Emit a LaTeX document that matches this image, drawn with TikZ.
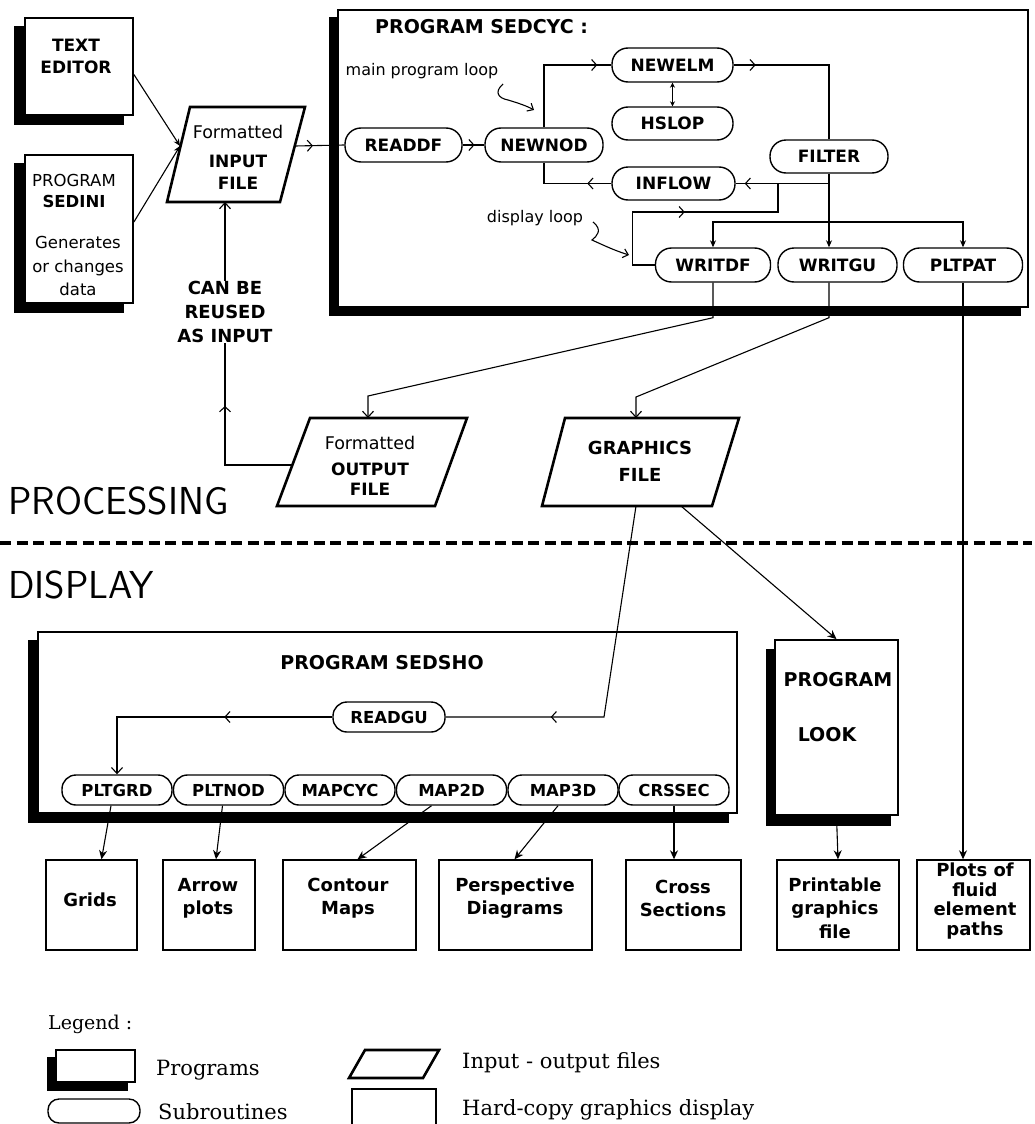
\documentclass[tikz,border=0pt]{standalone}
\usepackage{fontspec}
\setmainfont{DejaVu Sans}
\newfontfamily\legfont{DejaVu Serif}
\usetikzlibrary{arrows.meta,decorations.markings,backgrounds,calc}
\newcommand\fsz[1]{\fontsize{#1}{#1}\selectfont}
\tikzset{
  conn/.style={line width=1.1pt},
  midarr/.style={postaction={decorate},decoration={markings,mark=at position #1 with {\arrow{Straight Barb[length=5pt,width=11pt]}}}},
  openend/.style={-{Straight Barb[length=6pt,width=11pt]}},
  fillend/.style={-{Stealth[length=9pt,width=8pt]}},
  smallend/.style={-{Stealth[length=7pt,width=6pt]}},
  progbox/.style={draw, line width=1.8pt, fill=white, inner sep=0pt},
  sub/.style={draw, fill=white, line width=1.4pt, rounded corners=16pt, minimum width=118pt, minimum height=34pt, inner sep=0pt, font=\fsz{17}\bfseries},
  subsm/.style={sub, rounded corners=14pt, minimum width=110pt, minimum height=30pt, font=\fsz{16.5}\bfseries},
  hard/.style={draw, line width=1.4pt, inner sep=0pt, minimum height=90pt},
  filepath/.style={draw, line width=2.6pt, line join=miter},
  blbl/.style={font=\fsz{17}\bfseries, align=center, inner sep=0pt},
  rlbl/.style={font=\fsz{16}, align=center, inner sep=0pt},
  hlbl/.style={font=\fsz{18}\bfseries, align=center, inner sep=0pt},
  leg/.style={font=\legfont\fsz{21}, anchor=west, inner sep=0pt},
  big/.style={font=\sffamily\fsz{39}, anchor=west, inner sep=0pt},
}
\begin{document}
\begin{tikzpicture}[x=1pt,y=-1pt]
\useasboundingbox (0,0) rectangle (1034,1124);

% ---------- TEXT EDITOR, SEDINI ----------
\node[progbox, minimum width=108pt, minimum height=97pt] (ted) at (79,66.5) {};
\node[blbl] (tedtxt) at (76,56) {TEXT\\[5pt]EDITOR};
\node[progbox, minimum width=108pt, minimum height=148pt] (sedini) at (79,229) {};
\node[align=center, inner sep=0pt, font=\fsz{16.5}] (sedini1) at (74,191) {PROGRAM\\[4.5pt]{\bfseries SEDINI}};
\node[align=center, inner sep=0pt, font=\fsz{16.5}] (sedini2) at (78,266) {Generates\\[7pt]or changes\\[7pt]data};

% ---------- INPUT FILE ----------
\coordinate (in1) at (190,107); \coordinate (in2) at (305,107);
\coordinate (in3) at (280,202); \coordinate (in4) at (167,202);
\draw[filepath] (in1) -- (in2) -- (in3) -- (in4) -- cycle;
\node[blbl] (infile) at (238,157) {{\mdseries\fsz{17.5}Formatted}\\[12pt]INPUT\\[5pt]FILE};
\coordinate (inl) at (180,146);
\coordinate (inr) at (295,146);
\coordinate (inb) at (225,202);

% ---------- SEDCYC ----------
\node[progbox, minimum width=690pt, minimum height=297pt] (sedcyc) at (683,158.5) {};
\node[font=\fsz{19}\bfseries, anchor=west, inner sep=0pt] (sedcyctitle) at (375,27) {PROGRAM SEDCYC :};
\node[rlbl, font=\fsz{16}] (mpl) at (422,71) {main program loop};
\node[rlbl, font=\fsz{16}] (dl) at (535,218) {display loop};

\node[sub, minimum width=117pt] (readdf) at (403.5,145) {READDF};
\node[sub] (newnod) at (544,145) {NEWNOD};
\node[sub, minimum width=121pt] (newelm) at (672.5,65) {NEWELM};
\node[sub, minimum width=121pt, minimum height=33pt] (hslop) at (672.5,123.5) {HSLOP};
\node[sub, minimum width=123pt, minimum height=33pt] (inflow) at (673.5,183.5) {INFLOW};
\node[sub, minimum height=33pt] (filter) at (829,156.5) {FILTER};
\node[sub, minimum width=115pt] (wdf) at (713,265) {WRITDF};
\node[sub, minimum width=119pt] (wgu) at (837.5,265) {WRITGU};
\node[sub, minimum width=119pt] (pltpat) at (963,265) {PLTPAT};

% ---------- OUTPUT / GRAPHICS FILES ----------
\coordinate (ou1) at (310,418); \coordinate (ou2) at (467,418);
\coordinate (ou3) at (435,506); \coordinate (ou4) at (277,506);
\draw[filepath] (ou1) -- (ou2) -- (ou3) -- (ou4) -- cycle;
\node[blbl] (outfile) at (370,466) {{\mdseries\fsz{17.5}Formatted}\\[9pt]OUTPUT\\[3pt]FILE};
\coordinate (otop) at (368,418);
\coordinate (oleft) at (292,465);

\coordinate (gr1) at (565,418); \coordinate (gr2) at (739,418);
\coordinate (gr3) at (712,506); \coordinate (gr4) at (542,506);
\draw[filepath] (gr1) -- (gr2) -- (gr3) -- (gr4) -- cycle;
\node[font=\fsz{18}\bfseries, align=center, inner sep=0pt] (grfile) at (640,461) {GRAPHICS\\[9pt]FILE};
\coordinate (gtop) at (636,418);
\coordinate (gb1) at (636,506);
\coordinate (gb2) at (681,506);

\node[font=\fsz{18}\bfseries, align=center, inner sep=0pt] (reuse) at (225,312) {CAN BE\\[6pt]REUSED\\[6pt]AS INPUT};

% ---------- PROCESSING / DISPLAY ----------
\node[big] (proc) at (8,501) {PROCESSING};
\node[big] (disp) at (8,585) {DISPLAY};
\coordinate (dash0) at (0,543); \coordinate (dash1) at (1032,543);
\draw[line width=3.2pt, dash pattern=on 11pt off 5.5pt] (dash0) -- (dash1);

% ---------- SEDSHO ----------
\node[progbox, minimum width=699pt, minimum height=181pt] (sedsho) at (387.5,722.5) {};
\node[font=\fsz{19}\bfseries, inner sep=0pt] (sedshotitle) at (382,663) {PROGRAM SEDSHO};
\node[subsm, minimum width=112pt] (readgu) at (389,717) {READGU};
\node[subsm] (pltgrd) at (117,790) {PLTGRD};
\node[subsm] (pltnod) at (228.5,790) {PLTNOD};
\node[subsm] (mapcyc) at (340,790) {MAPCYC};
\node[subsm] (map2d) at (451.5,790) {MAP2D};
\node[subsm] (map3d) at (563,790) {MAP3D};
\node[subsm] (crssec) at (674,790) {CRSSEC};

% ---------- LOOK ----------
\node[progbox, minimum width=123pt, minimum height=175pt] (look) at (836.5,727.5) {};
\node[font=\fsz{19}\bfseries, inner sep=0pt] (looktxt1) at (838,680) {PROGRAM};
\node[font=\fsz{19}\bfseries, inner sep=0pt] (looktxt2) at (827,735) {LOOK};

% ---------- hard-copy boxes ----------
\node[hard, minimum width=91pt] (grids) at (91.5,905) {};
\node[hard, minimum width=92pt] (arrowp) at (209,905) {};
\node[hard, minimum width=133pt] (contour) at (349.5,905) {};
\node[hard, minimum width=153pt] (persp) at (515.5,905) {};
\node[hard, minimum width=115pt] (cross) at (683.5,905) {};
\node[hard, minimum width=122pt] (printable) at (838,905) {};
\node[hard, minimum width=113pt] (plots) at (973.5,905) {};
\node[hlbl] (t1) at (90,900) {Grids};
\node[hlbl] (t2) at (208,898) {Arrow\\[5pt]plots};
\node[hlbl] (t3) at (348,898) {Contour\\[5pt]Maps};
\node[hlbl] (t4) at (515,898) {Perspective\\[5pt]Diagrams};
\node[hlbl] (t5) at (683,898) {Cross\\[5pt]Sections};
\node[hlbl] (t6) at (835,908) {Printable\\[5.5pt]graphics\\[5.5pt]file};
\node[hlbl] (t7) at (975,901) {Plots of\\[1.5pt]fluid\\[1.5pt]element\\[1.5pt]paths};

% ---------- legend ----------
\node[leg, font=\legfont\fsz{19}] (legtitle) at (48,1024) {Legend :};
\node[progbox, minimum width=79pt, minimum height=32pt] (legprog) at (95.5,1066) {};
\node[leg] (legprogt) at (156,1070) {Programs};
\node[draw, line width=1.4pt, rounded corners=11pt, minimum width=92pt, minimum height=24pt, inner sep=0pt] (legsub) at (94,1111) {};
\node[leg] (legsubt) at (158,1112) {Subroutines};
\coordinate (lf1) at (365,1050); \coordinate (lf2) at (439,1050);
\coordinate (lf3) at (423,1078); \coordinate (lf4) at (349,1078);
\draw[filepath] (lf1) -- (lf2) -- (lf3) -- (lf4) -- cycle;
\node[leg] (legfilet) at (462,1063) {Input - output files};
\node[draw, line width=1.2pt, minimum width=84pt, minimum height=36pt, inner sep=0pt] (leghard) at (394,1107) {};
\node[leg] (leghardt) at (462,1110) {Hard-copy graphics display};

% ---------- connectors ----------
\draw[conn, smallend] ([yshift=-8pt]ted.east) -- (inl);
\draw[conn, smallend] ([yshift=7pt]sedini.east) -- (inl);
\draw[conn, midarr=18pt] (inr) -- (readdf.west);
\draw[conn, midarr=0.55] (readdf.east) -- (newnod.west);
\draw[conn, midarr=-14pt] (newnod.north) |- (newelm.west);
\draw[conn, midarr=24pt] (inflow.west) -| (newnod.south);
\draw[conn, {Stealth[length=5pt,width=5pt]}-{Stealth[length=5pt,width=5pt]}] (newelm.south) -- (hslop.north);
\draw[conn, midarr=22pt] (newelm.east) -| (filter.north);
\draw[conn, smallend] (filter.south) -- (filter.south |- wgu.north);
\coordinate (jf) at (filter.south |- inflow.east);
\draw[conn, midarr=-9pt] (jf) -- (inflow.east);
\coordinate (br) at (829,222);
\draw[conn, smallend] (br) -| (wdf.north);
\draw[conn, smallend] (br) -| (pltpat.north);
\coordinate (jl) at (778,183.5);
\draw[conn, midarr=127pt] (wdf.west) -- ++(-22,0) |- (778,212) -- (jl);
\draw[conn, openend] (wdf.south) -- ++(0,35) -- (368,396) -- (otop);
\draw[conn, openend] (filter.south |- wgu.south) -- ++(0,35) -- (636,397) -- (gtop);
\draw[conn, fillend] (pltpat.south) -- (pltpat.south |- plots.north);
\draw[conn, midarr=126pt] (oleft) -- (reuse.south |- oleft) -- (reuse.south);
\draw[conn, openend] (reuse.north) -- (inb);
\draw[conn, midarr=-105pt] (gb1) -- (604,717) -- (readgu.east);
\draw[conn, midarr=108pt, openend] (readgu.west) -| (pltgrd.north);
\draw[conn, fillend] (gb2) -- (look.north);
\draw[conn, fillend] (look.south) -- (printable.north);
\draw[conn, fillend] ([xshift=-6pt]pltgrd.south) -- ([xshift=10pt]grids.north);
\draw[conn, fillend] ([xshift=-6pt]pltnod.south) -- ([xshift=7pt]arrowp.north);
\draw[conn, fillend] ([xshift=-20pt]map2d.south) -- ([xshift=8pt]contour.north);
\draw[conn, fillend] ([xshift=-5pt]map3d.south) -- ([xshift=-1pt]persp.north);
\draw[conn, fillend] (crssec.south) -- (crssec.south |- cross.north);

% squiggly pointers
\coordinate (sq1s) at (503,84); \coordinate (sq1e) at (534,110);
\draw[conn, -{Straight Barb[length=5pt,width=9pt]}] (sq1s) .. controls (494,92) and (498,98) .. (508,100) .. controls (518,103) and (527,106) .. (sq1e);
\coordinate (sq2s) at (593,222); \coordinate (sq2e) at (629,255);
\draw[conn, -{Straight Barb[length=5pt,width=9pt]}] (sq2s) .. controls (603,230) and (597,236) .. (592,240) .. controls (605,246) and (616,251) .. (sq2e);

% shadows and white page
\begin{scope}[on background layer]
  \fill[white] (0,0) rectangle (1034,1124);
  \foreach \n/\dx/\dy in {ted/10/9, sedini/10/9, sedcyc/8/8, sedsho/9/9, look/8/10, legprog/8/8}
    \fill ([shift={(-\dx pt,-\dy pt)}]\n.south west) rectangle ([shift={(-\dx pt,-\dy pt)}]\n.north east);
\end{scope}
\end{tikzpicture}
\end{document}
